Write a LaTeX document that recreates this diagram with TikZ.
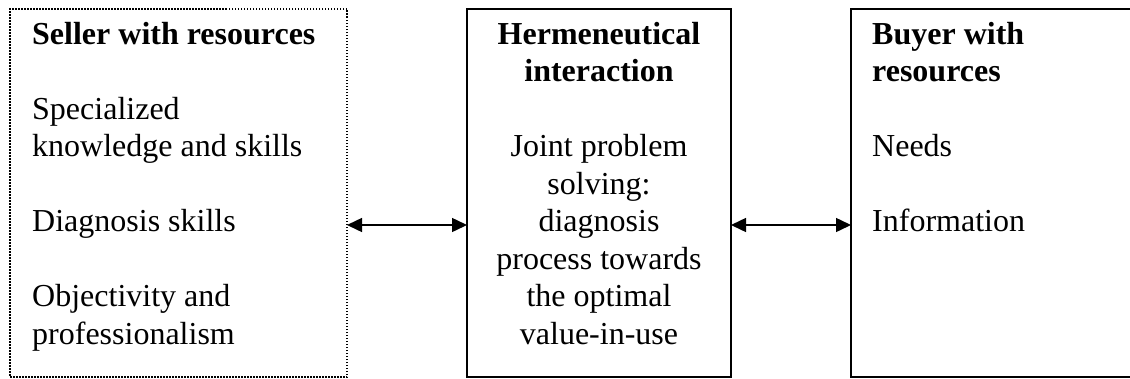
\documentclass[tikz,border=0pt]{standalone}
\usepackage{fontspec}
\setmainfont{Liberation Serif}
\usetikzlibrary{arrows.meta}
\tikzset{
  box/.style={draw=black, line width=1.5pt, inner sep=0pt, outer sep=0pt, anchor=north west, minimum height=368pt},
  dottedbox/.style={box, dash pattern=on 1.5pt off 1.5pt},
  txt/.style={anchor=base west, inner sep=0pt, font=\fontsize{32}{37.5}\selectfont},
  ctxt/.style={anchor=base, inner sep=0pt, font=\fontsize{32}{37.5}\selectfont},
  link/.style={line width=1.5pt, {Triangle[length=15pt,width=14pt]}-{Triangle[length=15pt,width=14pt]}}
}
\begin{document}
\begin{tikzpicture}[x=1pt,y=1pt]
\useasboundingbox (0,0) rectangle (1130,-378);
\clip (0,0) rectangle (1130,-378);
\node[dottedbox, minimum width=337pt] (seller) at (10,-9) {};
\node[box, minimum width=264pt] (herm) at (467,-9) {};
\node[box, minimum width=320pt] (buyer) at (851,-9) {};
\node[txt] (sellertext) at (32,-44) {\parbox[t]{310pt}{\raggedright
  \textbf{Seller with resources}\\[37.5pt]
  Specialized\\
  knowledge and skills\\[37.5pt]
  Diagnosis skills\\[37.5pt]
  Objectivity and\\
  professionalism}};
\node[ctxt] (hermtext) at (599,-44) {\parbox[t]{250pt}{\centering
  \textbf{Hermeneutical}\\
  \textbf{interaction}\\[37.5pt]
  Joint problem\\
  solving:\\
  diagnosis\\
  process towards\\
  the optimal\\
  value-in-use}};
\node[txt] (buyertext) at (872,-44) {\parbox[t]{250pt}{\raggedright
  \textbf{Buyer with}\\
  \textbf{resources}\\[37.5pt]
  Needs\\[37.5pt]
  Information}};
\coordinate (arrowy) at (0,-225);
\draw[link] (seller.east |- arrowy) -- (herm.west |- arrowy);
\draw[link] (herm.east |- arrowy) -- (buyer.west |- arrowy);
\end{tikzpicture}
\end{document}
